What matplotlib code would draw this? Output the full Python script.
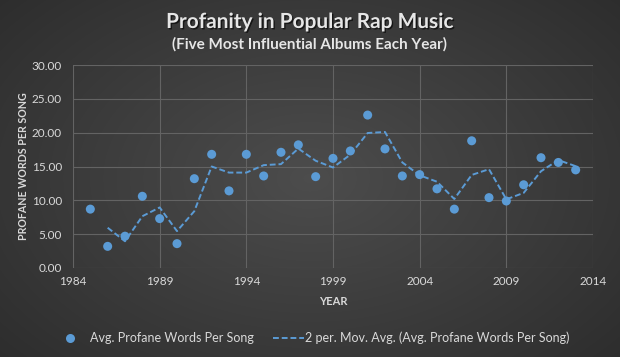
import numpy as np
import pandas as pd
import matplotlib
matplotlib.use("Agg")
import matplotlib.pyplot as plt
from matplotlib.lines import Line2D
import matplotlib.patheffects as pe

years = list(range(1985, 2014))
profane = [8.7, 3.2, 4.7, 10.6, 7.3, 3.6, 13.2, 16.8, 11.4, 16.8,
           13.6, 17.1, 18.2, 13.5, 16.2, 17.3, 22.6, 17.6, 13.6, 13.8,
           11.7, 8.7, 18.8, 10.4, 9.9, 12.3, 16.3, 15.6, 14.5]
x_ticks = [1984, 1989, 1994, 1999, 2004, 2009, 2014]
y_ticks = [0, 5, 10, 15, 20, 25, 30]

title = "Profanity in Popular Rap Music"
subtitle = "(Five Most Influential Albums Each Year)"
series_label = "Avg. Profane Words Per Song"
trend_label = "2 per. Mov. Avg. (Avg. Profane Words Per Song)"

plt.rcParams['font.family'] = ['Lato', 'DejaVu Sans']
txt = '#d9d9d9'
blue = '#5b9bd5'

fig = plt.figure(figsize=(6.2, 3.57), dpi=100)

# radial gradient background
bg = fig.add_axes([0, 0, 1, 1], zorder=-10)
gx, gy = np.meshgrid(np.linspace(-1, 1, 620), np.linspace(-1, 1, 357))
r = np.sqrt((gx * 0.85) ** 2 + (gy * 0.75) ** 2)
val = 0.30 - 0.15 * np.clip(r, 0, 1.4) / 1.4
bg.imshow(np.dstack([val, val, val]), aspect='auto', extent=[0, 1, 0, 1])
bg.set_axis_off()

ax = fig.add_axes([73 / 620, 1 - 268 / 357, 520 / 620, 203 / 357])
ax.patch.set_alpha(0)

s = pd.Series(profane, index=years)
ma = s.rolling(2).mean()

shadow = [pe.SimpleLineShadow(offset=(1, -1), shadow_color='black', alpha=0.5), pe.Normal()]
ax.plot(years, profane, linestyle='none', marker='o', markersize=6.5,
        color=blue, markeredgewidth=0, zorder=3, path_effects=shadow)
ax.plot(ma.index, ma.values, linestyle=(0, (3, 1.5)), color=blue, lw=1.4, zorder=2)

ax.set_xlim(1984, 2014)
ax.set_ylim(0, 30)
ax.set_xticks(x_ticks)
ax.set_yticks(y_ticks)
ax.set_yticklabels([f"{v:.2f}" for v in y_ticks])
ax.grid(True, color='#636363', lw=0.8)
for sp in ax.spines.values():
    sp.set_visible(False)
ax.tick_params(axis='y', length=0, colors=txt, labelsize=8.5, pad=8)
ax.tick_params(axis='x', length=0, colors=txt, labelsize=8.5, pad=6)
for lab in ax.get_xticklabels() + ax.get_yticklabels():
    lab.set_color(txt)

ax.set_xlabel("YEAR", color=txt, fontsize=8, fontweight='bold', labelpad=6)
ax.set_ylabel("PROFANE WORDS PER SONG", color=txt, fontsize=7.7, fontweight='bold', labelpad=2)

fig.text(0.5, 1 - 22 / 357, title, ha='center', va='center', color='#e6e6e6',
         fontsize=15, fontweight='bold',
         path_effects=[pe.withSimplePatchShadow(offset=(1, -1), shadow_rgbFace='black', alpha=0.6)])
fig.text(0.5, 1 - 44 / 357, subtitle, ha='center', va='center', color='#e6e6e6',
         fontsize=11, fontweight='bold')

h1 = Line2D([], [], linestyle='none', marker='o', markersize=6.5, color=blue, markeredgewidth=0)
h2 = Line2D([], [], linestyle=(0, (3, 1.5)), color=blue, lw=1.4)
leg1 = fig.legend([h1], [series_label], loc='center left',
                  bbox_to_anchor=(64 / 620, 1 - 338 / 357), frameon=False,
                  fontsize=9, labelcolor=txt, handlelength=1.0, handletextpad=1.08,
                  borderpad=0, borderaxespad=0)
leg2 = fig.legend([h2], [trend_label], loc='center left',
                  bbox_to_anchor=(273 / 620, 1 - 338 / 357), frameon=False,
                  fontsize=9, labelcolor=txt, handlelength=2.48, handletextpad=0.1,
                  borderpad=0, borderaxespad=0)

fig.savefig("out.png", dpi=100)
